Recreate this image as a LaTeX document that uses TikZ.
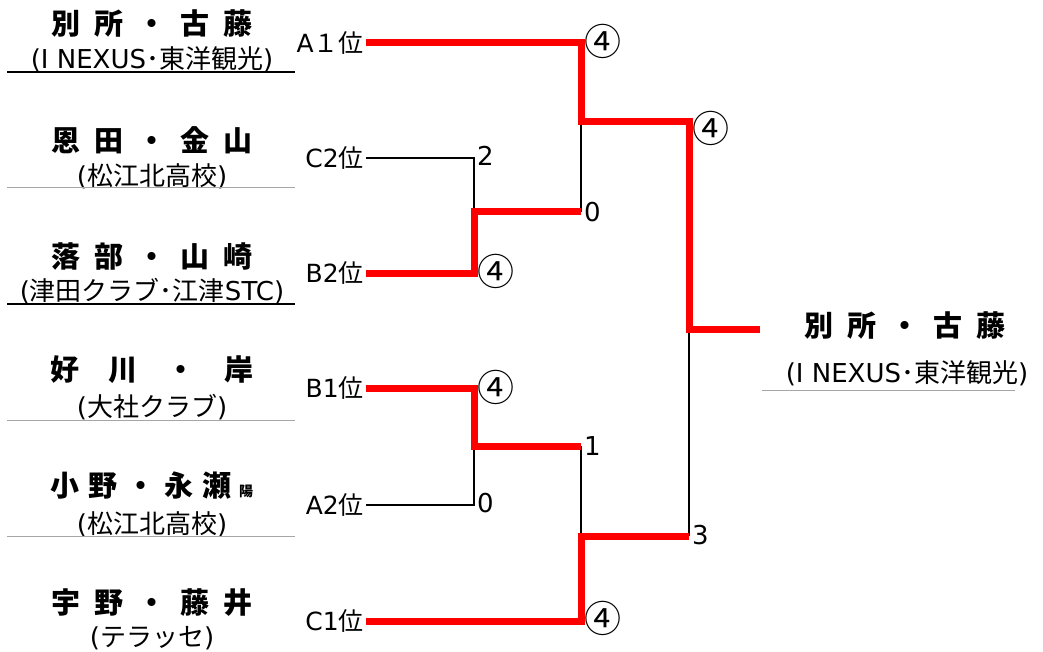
\documentclass[tikz,border=0pt]{standalone}
\usepackage{fontspec}
\setmainfont{Noto Sans CJK JP}
\newfontfamily\lat{DejaVu Sans}
\newcommand{\gp}{\hspace{14pt}}
\newcommand{\wgp}{\hspace{29pt}}
\tikzset{
  win/.style={red,line width=7pt},
  lose/.style={black,line width=2.6pt},
  player/.style={font=\fontsize{29}{32}\selectfont\bfseries,inner sep=0pt},
  club/.style={font=\fontsize{26}{28}\selectfont,inner sep=0pt},
  seed/.style={font=\fontsize{25}{27}\selectfont,left,inner sep=2pt},
  score/.style={font=\lat\fontsize{26}{28}\selectfont,right,inner sep=3pt},
  won/.style={font=\fontsize{37}{39}\selectfont,right,inner sep=3pt},
  rule/.style={line width=1.4pt},
  grule/.style={gray!70,line width=1pt},
}
\begin{document}
\begin{tikzpicture}[x=1pt,y=-1pt]
  \useasboundingbox (0,0) rectangle (1043,652);

  % players
  \node[player] (p1) at (152,24) {別\gp 所\gp ・\gp 古\gp 藤};
  \node[club] (c1t) at (152,59) {{\lat(I NEXUS}･東洋観光{\lat)}};
  \draw[rule] (7,72) -- (295,72);

  \node[player] (p2) at (152,140) {恩\gp 田\gp ・\gp 金\gp 山};
  \node[club] (c2t) at (152,176) {{\lat(}松江北高校{\lat)}};
  \draw[grule] (7,188) -- (295,188);

  \node[player] (p3) at (152,256) {落\gp 部\gp ・\gp 山\gp 崎};
  \node[club] (c3t) at (152,291) {{\lat(}津田クラブ･江津{\lat STC)}};
  \draw[rule] (7,304) -- (295,304);

  \node[player] (p4) at (152,370) {好\wgp 川\wgp ・\wgp 岸};
  \node[club] (c4t) at (152,407) {{\lat(}大社クラブ{\lat)}};
  \draw[grule] (7,420) -- (295,420);

  \node[player,anchor=west] (p5) at (50,486) {小\hspace{9pt}野\hspace{9pt}・\hspace{9pt}永\hspace{9pt}瀬\hspace{8pt}{\fontsize{14}{15}\selectfont 陽}};
  \node[club] (c5t) at (152,524) {{\lat(}松江北高校{\lat)}};
  \draw[grule] (7,536) -- (295,536);

  \node[player] (p6) at (152,603) {宇\gp 野\gp ・\gp 藤\gp 井};
  \node[club] (c6t) at (152,638) {{\lat(}テラッセ{\lat)}};

  % winner
  \node[player] (pw) at (905,326) {別\gp 所\gp ・\gp 古\gp 藤};
  \node[club] (cwt) at (907,373) {{\lat(I NEXUS}･東洋観光{\lat)}};
  \draw[grule] (762,390) -- (1015,390);

  % bracket points
  \coordinate (a1) at (366,43);
  \coordinate (c2) at (366,158);
  \coordinate (b2) at (366,273);
  \coordinate (b1) at (366,388);
  \coordinate (a2) at (366,505);
  \coordinate (c1) at (366,621);
  \coordinate (m1) at (474,212);
  \coordinate (m2) at (474,446);
  \coordinate (s1) at (581,122);
  \coordinate (s2) at (581,536);
  \coordinate (f) at (689,329);
  \coordinate (w) at (760,329);

  \node[seed] (la1) at (a1) {{\lat A}１位};
  \node[seed] (lc2) at (c2) {{\lat C2}位};
  \node[seed] (lb2) at (b2) {{\lat B2}位};
  \node[seed] (lb1) at (b1) {{\lat B1}位};
  \node[seed] (la2) at (a2) {{\lat A2}位};
  \node[seed] (lc1) at (c1) {{\lat C1}位};

  % losers
  \draw[lose] (c2) -| (m1);
  \draw[lose] (a2) -| (m2);
  \draw[lose] (m1 -| s1) -- (s1);
  \draw[lose] (m2 -| s2) -- (s2);
  \draw[lose] (s2 -| f) -- (f);

  % winners
  \draw[win] (b2) -| (m1) -- (m1 -| s1);
  \draw[win] (b1) -| (m2) -- (m2 -| s2);
  \draw[win] (c1) -| (s2) -- (s2 -| f);
  \draw[win] (a1) -| (s1) -| (f) -- (w);

  % scores
  \node[score] (sc2) at (474,156) {2};
  \node[won] (sb2) at (474,271) {④};
  \node[score] (sm1) at (581,212) {0};
  \node[won] (sa1) at (581,41) {④};
  \node[won] (ss1) at (689,128) {④};
  \node[won] (sb1) at (474,387) {④};
  \node[score] (sm2) at (581,446) {1};
  \node[score] (sa2) at (474,503) {0};
  \node[score] (ss2) at (689,535) {3};
  \node[won] (sc1) at (581,618) {④};
\end{tikzpicture}
\end{document}
